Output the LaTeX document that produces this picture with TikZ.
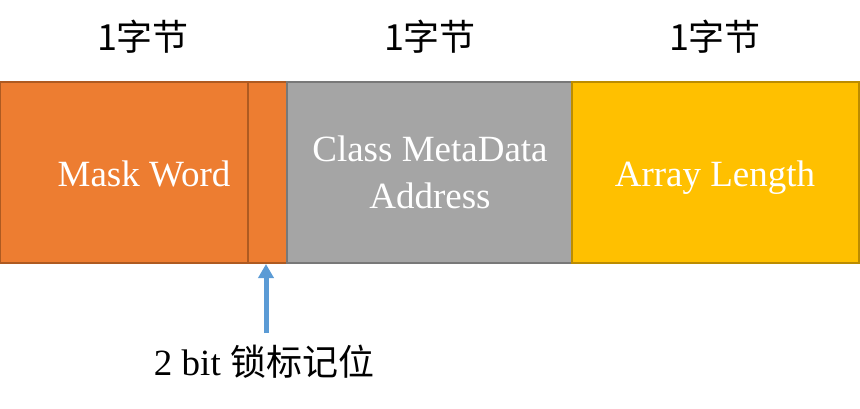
\documentclass[tikz,border=0pt]{standalone}
\usepackage{fontspec}
\setmainfont{Liberation Serif}
\newfontfamily\cjk{Noto Sans CJK SC}
\usetikzlibrary{positioning, arrows.meta}
\definecolor{orangefill}{HTML}{ED7D31}
\definecolor{orangeline}{HTML}{AE5A21}
\definecolor{grayfill}{HTML}{A5A5A5}
\definecolor{grayline}{HTML}{787878}
\definecolor{goldfill}{HTML}{FFC000}
\definecolor{goldline}{HTML}{BC8C00}
\definecolor{arrowblue}{HTML}{5B9BD5}
\tikzset{
    field/.style={draw, line width=2pt, inner sep=0pt, minimum height=181pt},
    fieldtext/.style={text=white, anchor=base, inner sep=0pt, font=\fontsize{37}{43}\selectfont},
    bytetext/.style={font=\cjk\fontsize{36}{40}\selectfont}
}

\begin{document}
\begin{tikzpicture}[x=1pt, y=-1pt]
                    \useasboundingbox (0,0) rectangle (860,409);

                    % the four fields of the header
                    \node[field, fill=orangefill, draw=orangeline, minimum width=248pt] (mask) at (124,172.5) {};
                    \node[field, fill=orangefill, draw=orangeline, minimum width=39pt] (lock) at (267.5,172.5) {};
                    \node[field, fill=grayfill, draw=grayline, minimum width=285pt] (meta) at (429.5,172.5) {};
                    \node[field, fill=goldfill, draw=goldline, minimum width=287pt] (len) at (715.5,172.5) {};

                    \node[fieldtext] (masktext) at (144,186) {Mask Word};
                    \node[fieldtext] (metatext) at (430,162) {Class MetaData};
                    \node[fieldtext] (addrtext) at (430,208) {Address};
                    \node[fieldtext] (lentext) at (715,186) {Array Length};

                    % sizes
                    \node[bytetext] (byteA) at (143,37) {1字节};
                    \node[bytetext] (byteB) at (430,37) {1字节};
                    \node[bytetext] (byteC) at (715,37) {1字节};

                    % lock bits
                    \node[font=\fontsize{37}{43}\selectfont] (locktext) at (264,362) {2 bit {\cjk\fontsize{36}{40}\selectfont 锁标记位}};
                    \coordinate (tail) at (266,333);
                    \draw[arrowblue, line width=5pt, -{Triangle[width=15pt, length=14pt]}] (tail) -- (lock.south -| tail);
                 \end{tikzpicture}
\end{document}
